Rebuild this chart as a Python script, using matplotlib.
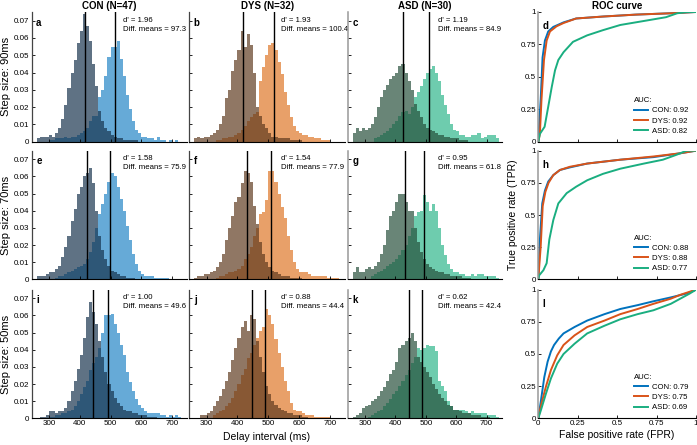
import numpy as np
import matplotlib.pyplot as plt

plt.rcParams['font.family'] = ['Liberation Sans', 'DejaVu Sans']

# delay histograms, 10 ms bins from 260 to 740 ms (probability per bin)
bin_edges = np.arange(260, 750, 10)

# step size 90 ms
con90_lo = [.002, .003, .003, .003, .004, .003, .005, .008,
            .013, .021, .031, .040, .047, .057, .064, .074,
            .067, .058, .045, .032, .018, .012, .008, .006,
            .004, .003, .002, .002, .001, .001, .001, .001,
            .001, 0, 0, 0, 0, 0, 0, 0,
            0, 0, 0, 0, 0, 0, 0, 0]
con90_hi = [0, 0, 0, 0, .001, .001, .002, .002,
            .002, .003, .002, .003, .003, .004, .005, .006,
            .008, .012, .015, .015, .026, .030, .038, .049,
            .055, .055, .058, .048, .038, .027, .019, .012,
            .007, .005, .003, .003, .002, .002, .001, .003,
            .001, .001, 0, .001, 0, .001, 0, 0]
dys90_lo = [.002, .003, .002, .003, .003, .004, .005, .007,
            .010, .015, .025, .030, .041, .047, .053, .064,
            .055, .062, .056, .040, .020, .015, .010, .008,
            .005, .003, .003, .002, .002, .002, .002, .001,
            .001, .001, .001, 0, 0, 0, 0, 0,
            0, 0, 0, 0, 0, 0, 0, 0]
dys90_hi = [0, 0, 0, 0, 0, 0, 0, .001,
            .001, .002, .002, .003, .003, .004, .005, .007,
            .009, .012, .014, .016, .017, .035, .043, .050,
            .056, .057, .053, .046, .039, .029, .021, .014,
            .009, .006, .005, .004, .004, .003, .003, .002,
            .002, .001, .001, .001, 0, 0, 0, 0]
asd90_lo = [.005, .008, .006, .008, .007, .008, .010, .014,
            .020, .026, .030, .033, .036, .038, .040, .044,
            .045, .040, .035, .030, .022, .018, .014, .010,
            .008, .007, .006, .005, .004, .004, .003, .003,
            .002, .002, .002, .001, .001, .001, 0, 0,
            0, 0, 0, 0, 0, 0, 0, 0]
asd90_hi = [0, 0, 0, 0, 0, 0, 0, .002,
            .003, .004, .005, .006, .008, .010, .012, .015,
            .017, .018, .016, .020, .026, .029, .032, .036,
            .040, .042, .044, .040, .035, .027, .021, .016,
            .010, .007, .006, .004, .004, .003, .003, .004,
            .004, .005, .002, .003, .004, .004, .004, .002]

# step size 70 ms
con70_lo = [.002, .002, .002, .003, .004, .004, .006, .008,
            .013, .019, .025, .034, .041, .050, .054, .060,
            .062, .065, .056, .040, .025, .017, .012, .008,
            .005, .004, .003, .002, .002, .001, .001, .001,
            0, 0, 0, 0, 0, 0, 0, 0,
            0, 0, 0, 0, 0, 0, 0, 0]
con70_hi = [0, 0, 0, 0, 0, 0, .001, .002,
            .002, .003, .004, .005, .006, .007, .008, .009,
            .012, .016, .022, .030, .038, .044, .050, .057,
            .062, .060, .054, .047, .040, .031, .023, .015,
            .009, .005, .003, .002, .002, .002, .001, .001,
            .001, .001, .001, 0, 0, 0, 0, 0]
dys70_lo = [.001, .002, .002, .003, .003, .004, .005, .007,
            .010, .015, .023, .030, .037, .045, .048, .056,
            .063, .062, .057, .043, .032, .022, .015, .010,
            .007, .005, .004, .003, .002, .002, .002, .001,
            .001, .001, .001, 0, 0, 0, 0, 0,
            0, 0, 0, 0, 0, 0, 0, 0]
dys70_hi = [0, 0, 0, 0, 0, 0, 0, .001,
            .002, .002, .003, .004, .004, .005, .006, .008,
            .012, .015, .019, .025, .030, .038, .039, .046,
            .063, .063, .057, .050, .042, .036, .025, .017,
            .010, .006, .004, .004, .004, .003, .002, .002,
            .002, .002, .002, .001, .001, .001, .001, 0]
asd70_lo = [.004, .007, .004, .004, .006, .007, .006, .008,
            .010, .015, .020, .029, .037, .040, .045, .050,
            .050, .045, .040, .040, .030, .022, .016, .012,
            .009, .007, .006, .005, .004, .004, .003, .003,
            .002, .002, .002, .002, .001, .001, .001, 0,
            0, 0, 0, 0, 0, 0, 0, 0]
asd70_hi = [0, 0, 0, 0, 0, 0, .002, .003,
            .004, .005, .006, .008, .009, .010, .012, .014,
            .017, .020, .025, .030, .037, .039, .040, .049,
            .045, .040, .044, .040, .030, .020, .014, .009,
            .006, .004, .004, .003, .003, .002, .002, .003,
            .002, .003, .003, .002, .002, .002, .002, .001]

# step size 50 ms
con50_lo = [0, .001, .001, .002, .004, .004, .003, .004,
            .004, .006, .010, .016, .022, .029, .037, .047,
            .059, .068, .062, .055, .045, .036, .027, .020,
            .016, .012, .009, .007, .005, .004, .004, .003,
            .003, .002, .002, .002, .001, .001, .001, 0,
            0, 0, 0, 0, 0, 0, 0, 0]
con50_hi = [0, 0, 0, 0, .001, .001, .002, .002,
            .003, .003, .004, .005, .007, .010, .014, .018,
            .022, .028, .032, .036, .041, .050, .060, .060,
            .061, .055, .050, .043, .037, .027, .021, .016,
            .011, .008, .006, .004, .003, .003, .003, .003,
            .002, .002, .001, .002, .001, .002, .001, 0]
dys50_lo = [0, 0, .002, .002, .003, .004, .007, .010,
            .013, .017, .022, .027, .034, .041, .047, .053,
            .057, .051, .060, .058, .045, .036, .027, .019,
            .014, .010, .008, .006, .005, .004, .003, .003,
            .002, .002, .002, .001, .001, 0, 0, 0,
            0, 0, 0, 0, 0, 0, 0, 0]
dys50_hi = [0, 0, 0, 0, 0, 0, .002, .003,
            .004, .005, .007, .009, .012, .016, .020, .025,
            .029, .035, .038, .043, .047, .051, .053, .064,
            .060, .055, .046, .038, .030, .022, .016, .009,
            .005, .004, .004, .003, .002, .002, .002, .001,
            .001, .001, .001, .001, 0, 0, 0, 0]
asd50_lo = [.001, .002, .003, .006, .007, .008, .010, .011,
            .013, .016, .018, .022, .026, .028, .033, .041,
            .043, .045, .047, .050, .045, .036, .033, .030,
            .027, .024, .020, .017, .014, .012, .010, .008,
            .007, .005, .005, .004, .003, .003, .003, .002,
            .002, .002, .001, .001, .001, 0, 0, 0]
asd50_hi = [0, 0, 0, 0, 0, .001, .002, .003,
            .004, .005, .007, .009, .011, .014, .016, .019,
            .022, .025, .028, .032, .036, .041, .040, .041,
            .043, .042, .042, .039, .022, .019, .016, .010,
            .007, .005, .005, .005, .005, .004, .003, .004,
            .003, .003, .003, .003, .002, .002, .002, .001]

groups = ['CON', 'DYS', 'ASD']
group_n = [47, 32, 30]
step_sizes = [90, 70, 50]

# means (ms), d' and difference of means per panel (rows: step size, cols: group)
means_lo = [[416, 419, 425], [423, 431, 433], [442, 446, 445]]
means_hi = [[513, 519, 510], [499, 509, 495], [492, 490, 487]]
dprime = [[1.96, 1.93, 1.19], [1.58, 1.54, 0.95], [1.00, 0.88, 0.62]]
diff_means = [[97.3, 100.4, 84.9], [75.9, 77.9, 61.8], [49.6, 44.4, 42.4]]

# ROC curves
roc90_con_fpr = [0, .005, .015, .027, .042, .063, .095, .16, .24, .41, .62, .835, 1]
roc90_con_tpr = [0, .12, .32, .65, .78, .85, .885, .92, .95, .965, .98, .99, 1]
roc90_dys_fpr = [0, .01, .02, .036, .053, .074, .116, .16, .24, .41, .62, .835, 1]
roc90_dys_tpr = [0, .06, .32, .63, .78, .85, .89, .915, .95, .965, .98, .99, 1]
roc90_asd_fpr = [0, .01, .04, .063, .085, .106, .127, .16, .22, .31, .41, .52, .69, .81, .88, .94, 1]
roc90_asd_tpr = [0, .06, .115, .27, .42, .55, .63, .69, .77, .82, .86, .90, .935, .96, .99, 1, 1]

roc70_con_fpr = [0, .01, .025, .042, .063, .095, .137, .2, .31, .52, .73, .90, 1]
roc70_con_tpr = [0, .306, .59, .69, .76, .81, .85, .87, .90, .93, .95, .98, 1]
roc70_dys_fpr = [0, .015, .028, .045, .065, .095, .137, .2, .31, .52, .73, .90, 1]
roc70_dys_tpr = [0, .25, .57, .68, .75, .81, .85, .875, .90, .93, .955, .98, 1]
roc70_asd_fpr = [0, .005, .032, .053, .07, .095, .127, .18, .24, .31, .41, .52, .67, .79, .88, .94, 1]
roc70_asd_tpr = [0, .03, .07, .125, .31, .46, .59, .67, .72, .77, .82, .86, .90, .93, .97, 1, 1]

roc50_con_fpr = [0, .017, .038, .059, .08, .10, .13, .16, .23, .31, .42, .52, .63, .73, .84, .94, 1]
roc50_con_tpr = [0, .14, .32, .44, .52, .57, .62, .66, .71, .76, .81, .85, .88, .91, .94, .97, 1]
roc50_dys_fpr = [0, .017, .048, .08, .12, .16, .23, .31, .42, .52, .63, .73, .84, .90, 1]
roc50_dys_tpr = [0, .10, .245, .375, .49, .57, .645, .71, .76, .81, .85, .89, .93, .96, 1]
roc50_asd_fpr = [0, .017, .048, .08, .12, .16, .23, .31, .42, .52, .63, .73, .84, .90, .96, 1]
roc50_asd_tpr = [0, .065, .19, .31, .425, .50, .58, .66, .72, .77, .81, .84, .89, .93, .97, 1]

auc = [[0.92, 0.92, 0.82], [0.88, 0.88, 0.77], [0.79, 0.75, 0.69]]

hists_lo = [[con90_lo, dys90_lo, asd90_lo],
            [con70_lo, dys70_lo, asd70_lo],
            [con50_lo, dys50_lo, asd50_lo]]
hists_hi = [[con90_hi, dys90_hi, asd90_hi],
            [con70_hi, dys70_hi, asd70_hi],
            [con50_hi, dys50_hi, asd50_hi]]
rocs = [[(roc90_con_fpr, roc90_con_tpr), (roc90_dys_fpr, roc90_dys_tpr), (roc90_asd_fpr, roc90_asd_tpr)],
        [(roc70_con_fpr, roc70_con_tpr), (roc70_dys_fpr, roc70_dys_tpr), (roc70_asd_fpr, roc70_asd_tpr)],
        [(roc50_con_fpr, roc50_con_tpr), (roc50_dys_fpr, roc50_dys_tpr), (roc50_asd_fpr, roc50_asd_tpr)]]

light_colors = ['#0072BD', '#DA6105', '#0DAA78']
dark_colors = ['#14304A', '#5B371B', '#224C37']
line_colors = ['#0072BD', '#D95319', '#1AAE80']
hist_letters = [['a', 'b', 'c'], ['e', 'f', 'g'], ['i', 'j', 'k']]
roc_letters = ['d', 'h', 'l']

W, H = 697, 445
fig = plt.figure(figsize=(W / 100, H / 100), dpi=100)


def box(l, r, t, b):
    return [l / W, 1 - b / H, (r - l) / W, (b - t) / H]


rows_px = [(12, 141.7), (150.7, 279.3), (289.7, 418.3)]
cols_px = [(31.5, 187.4), (189.1, 345.3), (347.7, 501.8)]
roc_px = (538.3, 696)

tick_kw = dict(direction='in', length=2.5, width=0.6, labelsize=5.8, pad=1.5)

for r in range(3):
    t, b = rows_px[r]
    for c in range(3):
        l, rr = cols_px[c]
        ax = fig.add_axes(box(l, rr, t, b))
        ax.stairs(hists_hi[r][c], bin_edges, fill=True, color=light_colors[c], alpha=0.6, lw=0)
        ax.stairs(hists_lo[r][c], bin_edges, fill=True, color=dark_colors[c], alpha=0.68, lw=0)
        ax.axvline(means_lo[r][c], color='k', lw=1.0)
        ax.axvline(means_hi[r][c], color='k', lw=1.0)
        ax.set_xlim(243, 750)
        ax.set_ylim(0, 0.075)
        ax.set_xticks([300, 400, 500, 600, 700])
        ax.set_yticks(np.arange(0, 0.071, 0.01))
        ax.tick_params(**tick_kw)
        for s in ['top', 'right']:
            ax.spines[s].set_visible(False)
        ax.spines['bottom'].set_linewidth(0.8)
        ax.spines['left'].set_linewidth(0.9 if c < 2 else 1.1)
        ax.spines['left'].set_color('#444444' if c < 2 else '#999999')
        if c == 0:
            ax.set_yticklabels(['0'] + ['%.2f' % v for v in np.arange(0.01, 0.071, 0.01)])
            ax.set_ylabel('Step size: %dms' % step_sizes[r], fontsize=8, labelpad=2)
        else:
            ax.set_yticklabels([])
        if r < 2:
            ax.set_xticklabels([])
        if r == 0:
            ax.set_title('%s (N=%d)' % (groups[c], group_n[c]), fontsize=7, fontweight='bold', pad=2)
        ax.text(0.03, 0.955, hist_letters[r][c], transform=ax.transAxes,
                fontsize=7, fontweight='bold', va='top')
        ax.text(540, 0.965, "d' = %.2f\nDiff. means = %.1f" % (dprime[r][c], diff_means[r][c]),
                transform=ax.get_xaxis_transform(), fontsize=5.6, va='top', linespacing=1.45)

    ax = fig.add_axes(box(roc_px[0], roc_px[1], t, b))
    for c in range(3):
        fpr, tpr = rocs[r][c]
        ax.plot(fpr, tpr, color=line_colors[c], lw=1.4,
                label='%s: %.2f' % (groups[c], auc[r][c]))
    ax.set_xlim(0, 1)
    ax.set_ylim(0, 1)
    ax.set_xticks([0, 0.25, 0.5, 0.75, 1])
    ax.set_yticks([0, 0.25, 0.5, 0.75, 1])
    ax.set_yticklabels(['0', '0.25', '0.5', '0.75', '1'])
    if r == 2:
        ax.set_xticklabels(['0', '0.25', '0.5', '0.75', '1'])
        ax.set_xlabel('False positive rate (FPR)', fontsize=7.5, labelpad=2)
    else:
        ax.set_xticklabels([])
    if r == 1:
        ax.set_ylabel('True positive rate (TPR)', fontsize=7.5, labelpad=2)
    if r == 0:
        ax.set_title('ROC curve', fontsize=7, fontweight='bold', pad=2)
    ax.tick_params(**tick_kw)
    for s in ['top', 'right']:
        ax.spines[s].set_visible(False)
    ax.spines['left'].set_color('#999999')
    ax.spines['left'].set_linewidth(1.1)
    ax.spines['bottom'].set_linewidth(0.8)
    ax.text(0.025, 0.93, roc_letters[r], transform=ax.transAxes,
            fontsize=7, fontweight='bold', va='top')
    ax.legend(title='AUC:', loc='lower left', bbox_to_anchor=(0.56, 0.0),
              frameon=False, fontsize=5.6, title_fontsize=5.6,
              handlelength=1.9, handletextpad=0.5, labelspacing=0.35,
              alignment='left')

fig.text(267 / W, 1 - 437 / H, 'Delay interval (ms)', fontsize=7.5, ha='center', va='center')

fig.savefig('out.png', dpi=100)
